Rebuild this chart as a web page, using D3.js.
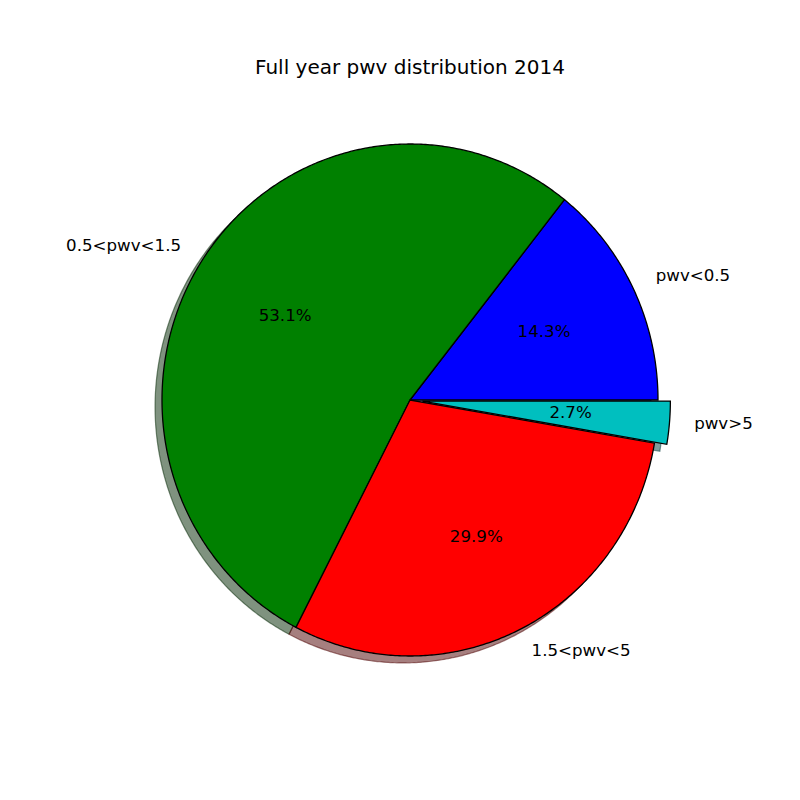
<!DOCTYPE html>
<html>
<head>
<meta charset="utf-8">
<script src="https://cdn.jsdelivr.net/npm/d3@7"></script>
<style>
  body { margin: 0; background: #fff; }
  text { font-family: "DejaVu Sans", sans-serif; }
</style>
</head>
<body>
<svg id="chart" width="800" height="800"></svg>
<script>
const labels = ["pwv<0.5", "0.5<pwv<1.5", "1.5<pwv<5", "pwv>5"];
const sizes = [14.3, 53.1, 29.9, 2.7];
const colors = ["#0000ff", "#008000", "#ff0000", "#00bfbf"];
const explode = [0, 0, 0, 0.05];
const title = "Full year pwv distribution 2014";

(function () {
const W = 800, H = 800;
const svg = d3.select("#chart");
svg.append("rect").attr("width", W).attr("height", H).attr("fill", "#fff");

// axes area (matplotlib default subplot params)
const axL = 0.125 * W, axR = 0.9 * W, axT = H - 0.9 * H, axB = H - 0.1 * H;
const x = d3.scaleLinear().domain([-1.25, 1.25]).range([axL, axR]);
const y = d3.scaleLinear().domain([-1.25, 1.25]).range([axB, axT]);

const total = d3.sum(sizes);
let theta = 0;
const wedges = sizes.map((s, i) => {
  const t1 = theta, t2 = theta + 2 * Math.PI * s / total;
  theta = t2;
  const mid = (t1 + t2) / 2;
  const cx = explode[i] * Math.cos(mid), cy = explode[i] * Math.sin(mid);
  return { i, t1, t2, mid, cx, cy, label: labels[i], pct: s, color: colors[i] };
});

const line = d3.line().x(d => x(d[0])).y(d => y(d[1]));
function wedgePts(w, ox, oy) {
  const n = Math.max(8, Math.ceil((w.t2 - w.t1) / (Math.PI / 180) * 2));
  const pts = [[w.cx + ox, w.cy + oy]];
  d3.range(n + 1).forEach(k => {
    const a = w.t1 + (w.t2 - w.t1) * k / n;
    pts.push([w.cx + ox + Math.cos(a), w.cy + oy + Math.sin(a)]);
  });
  return pts;
}

// shadows
const gShadow = svg.append("g");
wedges.forEach(w => {
  const c = d3.rgb(w.color);
  const sc = d3.rgb(c.r * 0.3, c.g * 0.3, c.b * 0.3);
  gShadow.append("path")
    .attr("d", line(wedgePts(w, -0.028, -0.027)) + "Z")
    .attr("fill", sc.toString())
    .attr("fill-opacity", 0.5)
    .attr("stroke", sc.toString())
    .attr("stroke-opacity", 0.5)
    .attr("stroke-width", 1.2);
});

// wedges
const gW = svg.append("g");
wedges.forEach(w => {
  gW.append("path")
    .attr("d", line(wedgePts(w, 0, 0)) + "Z")
    .attr("fill", w.color)
    .attr("stroke", "#000")
    .attr("stroke-width", 1.3)
    .attr("stroke-linejoin", "miter");
});

// labels
const fs = 16.67;
const gT = svg.append("g");
wedges.forEach(w => {
  const lx = w.cx + 1.1 * Math.cos(w.mid), ly = w.cy + 1.1 * Math.sin(w.mid);
  gT.append("text")
    .attr("x", x(lx)).attr("y", y(ly))
    .attr("dy", "0.22em")
    .attr("text-anchor", lx > 0 ? "start" : "end")
    .attr("font-size", fs)
    .text(w.label);
  const px = w.cx + 0.6 * Math.cos(w.mid), py = w.cy + 0.6 * Math.sin(w.mid);
  gT.append("text")
    .attr("x", x(px)).attr("y", y(py))
    .attr("dy", "0.25em")
    .attr("text-anchor", "middle")
    .attr("font-size", fs)
    .text(d3.format(".1f")(w.pct) + "%");
});

svg.append("text")
  .attr("x", (axL + axR) / 2)
  .attr("y", axT - 6.5)
  .attr("text-anchor", "middle")
  .attr("font-size", 20)
  .text(title);
})();
</script>
</body>
</html>
